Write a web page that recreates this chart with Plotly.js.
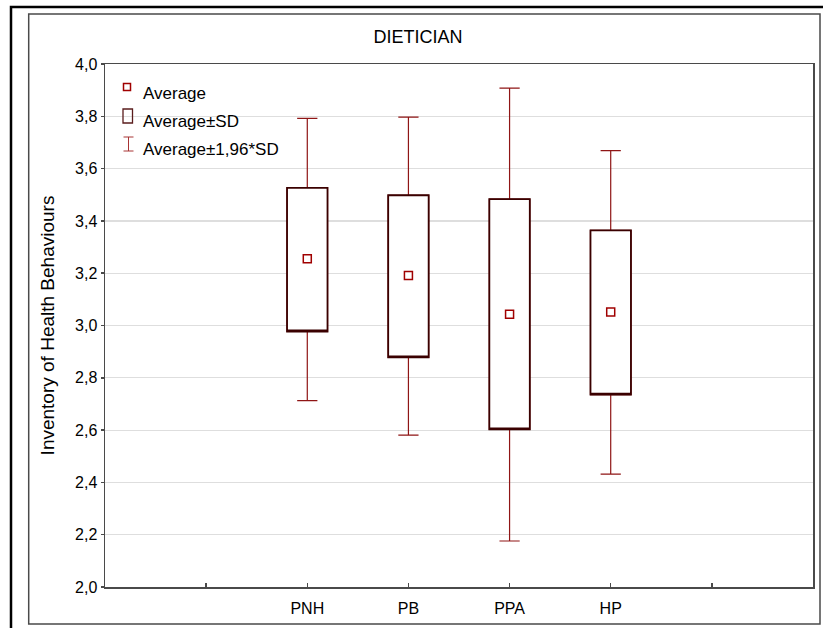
<!DOCTYPE html>
<html>
<head>
<meta charset="utf-8">
<script src="https://cdn.plot.ly/plotly-3.0.1.min.js"></script>
<style>
  html, body { margin: 0; padding: 0; background: #ffffff; }
  #chart { width: 823px; height: 628px; }
</style>
</head>
<body>
<div id="chart"></div>
<script>
// ---- data ----
const categories = ['PNH', 'PB', 'PPA', 'HP'];
const means  = [3.255, 3.191, 3.043, 3.052];
const sdLow  = [2.977, 2.878, 2.603, 2.736];
const sdHigh = [3.526, 3.498, 3.483, 3.364];
const ciLow  = [2.713, 2.581, 2.176, 2.432];
const ciHigh = [3.792, 3.797, 3.908, 3.669];
const legendLabels = ['Average', 'Average\u00b1SD', 'Average\u00b11,96*SD'];
const chartTitle = 'DIETICIAN';
const yTitle = 'Inventory of Health Behaviours';

// ---- layout geometry ----
const W = 823, H = 628;
const plotL = 105, plotR = 813, plotT = 64, plotB = 587;
const px = x => (x - plotL) / (plotR - plotL);
const py = y => (plotB - y) / (plotB - plotT);

const positions = categories.map((c, i) => i + 2);
const FONT = 'Liberation Sans, Arial, sans-serif';
const whiskerColor = '#8f1515';
const boxColor = '#3a0000';
const meanColor = '#a00000';

const traces = [
  {
    type: 'box', x: positions, q1: sdLow, median: sdLow, q3: sdHigh,
    lowerfence: ciLow, upperfence: ciHigh,
    boxpoints: false, width: 0.4, whiskerwidth: 0.5,
    line: { color: whiskerColor, width: 1.2 }, fillcolor: '#ffffff',
    showlegend: false, hoverinfo: 'skip'
  },
  {
    type: 'box', x: positions, q1: sdLow, median: sdLow, q3: sdHigh,
    lowerfence: sdLow, upperfence: sdHigh,
    boxpoints: false, width: 0.4, whiskerwidth: 0,
    line: { color: boxColor, width: 1.8 }, fillcolor: '#ffffff',
    showlegend: false, hoverinfo: 'skip'
  },
  {
    type: 'scatter', mode: 'markers', x: positions, y: means,
    marker: { symbol: 'square-open', size: 8, color: meanColor, line: { width: 1.5, color: meanColor } },
    showlegend: false, hoverinfo: 'skip'
  }
];

const legendY = [93.3, 121.7, 149.3];
const annotations = legendLabels.map((t, i) => ({
  text: t, xref: 'paper', yref: 'paper', x: px(141), y: py(legendY[i]),
  xanchor: 'left', yanchor: 'middle', showarrow: false,
  font: { family: FONT, size: 17, color: '#000000' }
}));

const shapes = [
  // outer black frame (partly cut off at right/bottom)
  { type: 'rect', xref: 'paper', yref: 'paper', x0: px(11), x1: px(840), y0: py(645), y1: py(7),
    line: { color: '#000000', width: 2.5 }, fillcolor: 'rgba(0,0,0,0)' },
  // inner grey frame
  { type: 'rect', xref: 'paper', yref: 'paper', x0: px(28.7), x1: px(820), y0: py(624), y1: py(14),
    line: { color: '#4a4a4a', width: 1.5 }, fillcolor: 'rgba(0,0,0,0)' },
  // legend glyphs
  { type: 'rect', xref: 'paper', yref: 'paper', x0: px(123.5), x1: px(130.5), y0: py(90.5), y1: py(83.5),
    line: { color: meanColor, width: 1.5 }, fillcolor: 'rgba(0,0,0,0)' },
  { type: 'rect', xref: 'paper', yref: 'paper', x0: px(123), x1: px(132.5), y0: py(123), y1: py(109),
    line: { color: '#5a1c1c', width: 1.3 }, fillcolor: 'rgba(0,0,0,0)' },
  { type: 'line', xref: 'paper', yref: 'paper', x0: px(128.5), x1: px(128.5), y0: py(151), y1: py(137),
    line: { color: '#a83434', width: 1 } },
  { type: 'line', xref: 'paper', yref: 'paper', x0: px(123.5), x1: px(133.5), y0: py(137), y1: py(137),
    line: { color: '#a83434', width: 1 } },
  { type: 'line', xref: 'paper', yref: 'paper', x0: px(123.5), x1: px(133.5), y0: py(151), y1: py(151),
    line: { color: '#a83434', width: 1 } }
];

const layout = {
  width: W, height: H,
  margin: { l: plotL, r: W - plotR, t: plotT, b: H - plotB, pad: 0 },
  paper_bgcolor: '#ffffff', plot_bgcolor: '#ffffff',
  separators: ', ',
  showlegend: false,
  boxmode: 'overlay',
  font: { family: FONT, color: '#000000' },
  title: {
    text: chartTitle, font: { family: FONT, size: 18, color: '#000000' },
    x: 418 / W, xref: 'container', xanchor: 'center',
    y: 1 - 37 / H, yref: 'container', yanchor: 'middle'
  },
  xaxis: {
    range: [0, 7], tickmode: 'array', tickvals: [1, ...positions, 6],
    ticktext: ['', ...categories, ''],
    ticks: 'inside', ticklen: 4, tickwidth: 1.5, tickcolor: '#4a4a4a',
    showgrid: false, zeroline: false,
    showline: true, linecolor: '#4a4a4a', linewidth: 1.5, mirror: true,
    tickfont: { family: FONT, size: 16, color: '#000000' },
    ticklabelstandoff: 6
  },
  yaxis: {
    range: [2, 4], tickmode: 'linear', tick0: 2, dtick: 0.2, tickformat: '.1f',
    ticks: 'outside', ticklen: 3, tickwidth: 1.5, tickcolor: '#4a4a4a',
    showgrid: true, gridcolor: '#dedede', gridwidth: 1.2, zeroline: false,
    showline: true, linecolor: '#4a4a4a', linewidth: 1.5, mirror: true,
    tickfont: { family: FONT, size: 16, color: '#000000' },
    title: { text: yTitle, font: { family: FONT, size: 19, color: '#000000' }, standoff: 15 },
    automargin: false
  },
  annotations: annotations,
  shapes: shapes
};

Plotly.newPlot('chart', traces, layout, { staticPlot: true, displayModeBar: false });
</script>
</body>
</html>
